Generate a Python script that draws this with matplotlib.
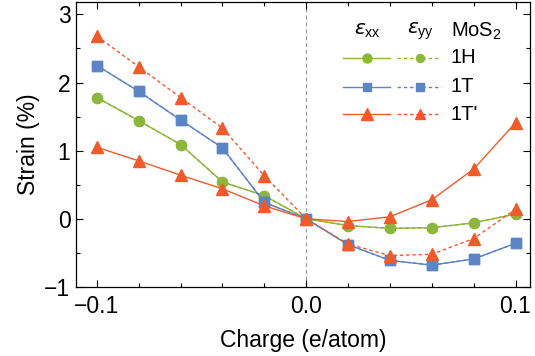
import numpy as np
import matplotlib.pyplot as plt
from matplotlib.lines import Line2D

plt.rcParams['font.family'] = ['Liberation Sans', 'DejaVu Sans']
plt.rcParams['mathtext.fontset'] = 'custom'
plt.rcParams['mathtext.rm'] = 'Liberation Sans'
plt.rcParams['mathtext.it'] = 'DejaVu Sans:italic'

# ---------- data ----------
charge = [-0.10, -0.08, -0.06, -0.04, -0.02, 0.0, 0.02, 0.04, 0.06, 0.08, 0.10]

h_xx = [1.78, 1.44, 1.09, 0.54, 0.34, 0.0, -0.10, -0.14, -0.13, -0.06, 0.07]
h_yy = [1.78, 1.44, 1.09, 0.54, 0.34, 0.0, -0.10, -0.14, -0.13, -0.06, 0.07]
t_xx = [2.25, 1.87, 1.45, 1.04, 0.24, 0.0, -0.38, -0.61, -0.68, -0.59, -0.36]
t_yy = [2.25, 1.87, 1.45, 1.04, 0.24, 0.0, -0.38, -0.61, -0.68, -0.59, -0.36]
tp_xx = [1.05, 0.85, 0.64, 0.44, 0.19, 0.0, -0.04, 0.03, 0.28, 0.73, 1.41]
tp_yy = [2.68, 2.23, 1.78, 1.33, 0.63, 0.0, -0.37, -0.54, -0.52, -0.29, 0.14]

phases = ["1H", "1T", "1T'"]
colors = ["#8cb63c", "#5b85c4", "#f15a2a"]
markers = ["o", "s", "^"]
msizes = [7.2, 7.0, 9.0]
series = [(h_xx, h_yy), (t_xx, t_yy), (tp_xx, tp_yy)]

# ---------- plot ----------
fig = plt.figure(figsize=(5.35, 3.56), dpi=100)
ax = fig.add_axes([0.142, 0.194, 0.849, 0.800])

ax.axvline(0, color="0.6", lw=0.9, ls=(0, (3, 2.5)), zorder=0)

for (xx, yy), c, m, ms in zip(series, colors, markers, msizes):
    ax.plot(charge, yy, color=c, lw=1.0, ls=(0, (2.5, 2)), marker=m, ms=ms,
            mec=c, mfc=c)
    ax.plot(charge, xx, color=c, lw=1.0, ls="-", marker=m, ms=ms, mec=c, mfc=c)

ax.set_xlim(-0.11, 0.107)
ax.set_ylim(-1.0, 3.18)
ax.set_xticks([-0.1, 0.0, 0.1])
ax.set_xticklabels(["\u22120.1", "0.0", "0.1"])
ax.set_xticks(np.arange(-0.1, 0.101, 0.02), minor=True)
ax.set_yticks([-1, 0, 1, 2, 3])
ax.set_yticklabels(["\u22121", "0", "1", "2", "3"])
ax.set_yticks(np.arange(-1, 3.01, 0.5), minor=True)
ax.tick_params(which="both", direction="in", top=True, right=True,
               labelsize=16.5, width=0.8)
ax.tick_params(which="major", length=5)
ax.tick_params(axis="x", which="major", pad=6)
ax.tick_params(axis="y", which="major", pad=4)
ax.tick_params(which="minor", length=3)
for s in ax.spines.values():
    s.set_linewidth(0.9)

ax.set_xlabel("Charge (e/atom)", fontsize=16.5, labelpad=8)
ax.set_ylabel("Strain (%)", fontsize=16.5, labelpad=3)

# ---------- custom legend ----------
tr = ax.transAxes
def px(x, y):
    # figure pixels -> axes fraction
    return ax.transAxes.inverted().transform(fig.transFigure.transform((x / 535, 1 - y / 356)))

rows_y = [58, 87, 114]
for py, c, m, ms, lab in zip(rows_y, colors, markers, msizes, phases):
    x0, y0 = px(343, py); x1, _ = px(390, py); xm, _ = px(367, py)
    ax.add_line(Line2D([x0, x1], [y0, y0], transform=tr, color=c, lw=1.0))
    ax.add_line(Line2D([xm], [y0], transform=tr, color=c, marker=m, ms=ms * 0.9, mec=c, mfc=c))
    x0, _ = px(397, py); x1, _ = px(441, py); xm, _ = px(420, py)
    ax.add_line(Line2D([x0, x1], [y0, y0], transform=tr, color=c, lw=1.0, ls=(0, (2.5, 2))))
    ax.add_line(Line2D([xm], [y0], transform=tr, color=c, marker=m, ms=ms * 0.8, mec=c, mfc=c))
    xt, _ = px(451, py)
    ax.text(xt, y0, lab, transform=tr, fontsize=14.5, va="center", ha="left")

hy = 31
x, y = px(367, hy)
ax.text(x, y, r"$\epsilon_{\rm xx}$", transform=tr, fontsize=14.5, ha="center", va="center")
x, _ = px(420, hy)
ax.text(x, y, r"$\epsilon_{\rm yy}$", transform=tr, fontsize=14.5, ha="center", va="center")
x, _ = px(451, hy)
ax.text(x, y, r"MoS$_2$", transform=tr, fontsize=14.5, ha="left", va="center")

fig.savefig("out.png", dpi=100)
